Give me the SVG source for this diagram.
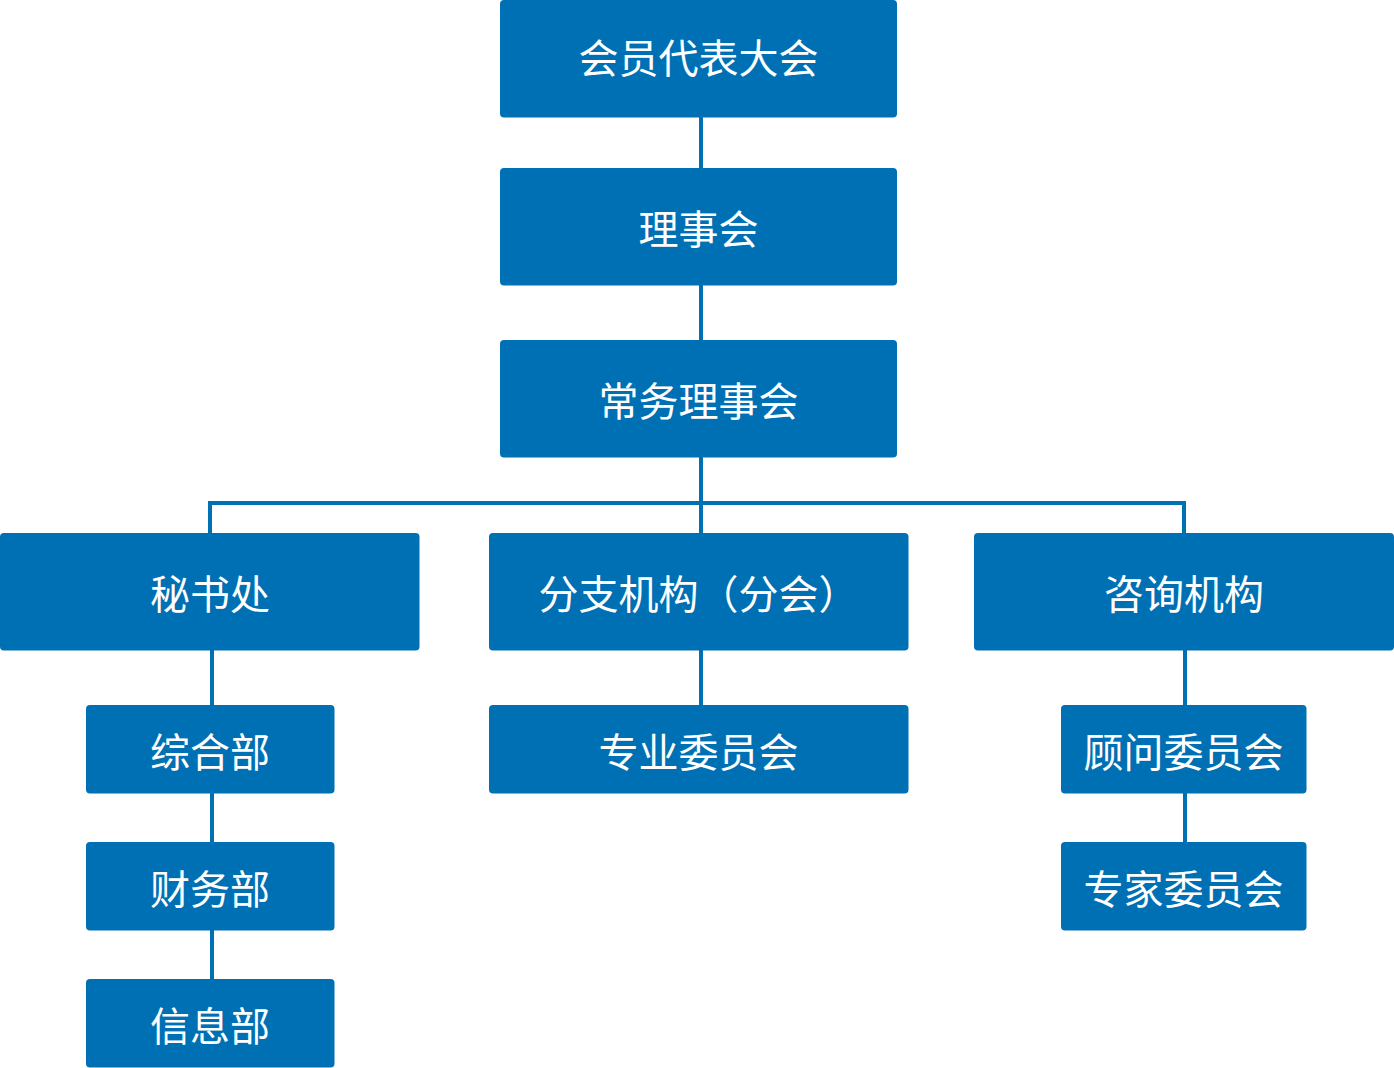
<svg xmlns="http://www.w3.org/2000/svg" width="1394" height="1068" viewBox="0 0 1394 1068">
<style>
.box{fill:#0070B4}
.lbl{fill:#fff;font-family:"Noto Sans CJK SC","Noto Sans",sans-serif;font-size:40px;text-anchor:middle;dominant-baseline:central}
.ln{stroke:#0070B4;stroke-width:4;fill:none}
</style>
<rect width="1394" height="1068" fill="#fff"/>
<g id="connectors">
<line class="ln" x1="701" y1="117" x2="701" y2="168"/>
<line class="ln" x1="701" y1="285" x2="701" y2="340"/>
<line class="ln" x1="701" y1="457" x2="701" y2="533"/>
<polyline class="ln" points="210,533 210,503 1184,503 1184,533"/>
<line class="ln" x1="212" y1="650" x2="212" y2="705"/>
<line class="ln" x1="212" y1="793" x2="212" y2="842"/>
<line class="ln" x1="212" y1="930" x2="212" y2="979"/>
<line class="ln" x1="701" y1="650" x2="701" y2="705"/>
<line class="ln" x1="1185" y1="650" x2="1185" y2="705"/>
<line class="ln" x1="1185" y1="793" x2="1185" y2="842"/>
</g>
<g id="n1"><rect class="box" x="500" y="0" width="397" height="117.5" rx="4"/><text class="lbl" x="698.5" y="56">会员代表大会</text></g>
<g id="n2"><rect class="box" x="500" y="168" width="397" height="117.5" rx="4"/><text class="lbl" x="698.5" y="227">理事会</text></g>
<g id="n3"><rect class="box" x="500" y="340" width="397" height="117.5" rx="4"/><text class="lbl" x="698.5" y="399">常务理事会</text></g>
<g id="n4"><rect class="box" x="0" y="533" width="419.5" height="117.5" rx="4"/><text class="lbl" x="210" y="592">秘书处</text></g>
<g id="n5"><rect class="box" x="489" y="533" width="419.5" height="117.5" rx="4"/><text class="lbl" x="698.5" y="592">分支机构（分会）</text></g>
<g id="n6"><rect class="box" x="974" y="533" width="420" height="117.5" rx="4"/><text class="lbl" x="1184" y="592">咨询机构</text></g>
<g id="n7"><rect class="box" x="86" y="705" width="248.5" height="88.5" rx="4"/><text class="lbl" x="210" y="750">综合部</text></g>
<g id="n8"><rect class="box" x="86" y="842" width="248.5" height="88.5" rx="4"/><text class="lbl" x="210" y="887">财务部</text></g>
<g id="n9"><rect class="box" x="86" y="979" width="248.5" height="88.5" rx="4"/><text class="lbl" x="210" y="1024">信息部</text></g>
<g id="n10"><rect class="box" x="489" y="705" width="419.5" height="88.5" rx="4"/><text class="lbl" x="698.5" y="750">专业委员会</text></g>
<g id="n11"><rect class="box" x="1061" y="705" width="245.5" height="88.5" rx="4"/><text class="lbl" x="1183.5" y="750">顾问委员会</text></g>
<g id="n12"><rect class="box" x="1061" y="842" width="245.5" height="88.5" rx="4"/><text class="lbl" x="1183.5" y="887">专家委员会</text></g>
</svg>
